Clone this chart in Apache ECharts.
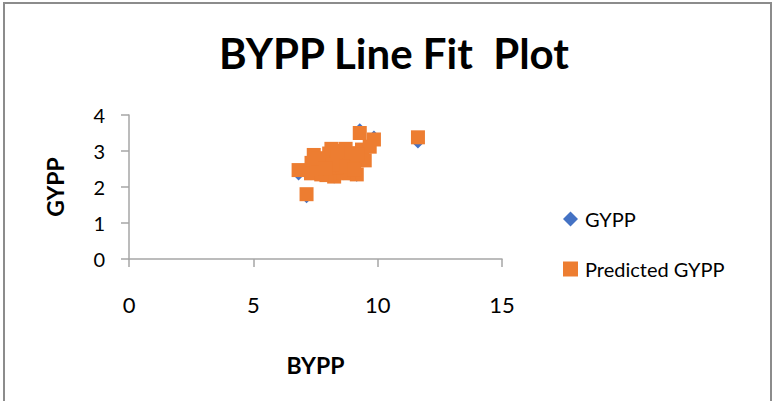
<!DOCTYPE html>
<html>
<head>
<meta charset="utf-8">
<script src="https://cdn.jsdelivr.net/npm/echarts@6/dist/echarts.min.js"></script>
<style>
  html, body { margin: 0; padding: 0; background: #fff; }
  #chart { width: 774px; height: 401px; }
</style>
</head>
<body>
<div id="chart"></div>
<script>
// BYPP values (x) and the two GYPP series
const bypp = [9.28, 9.85, 11.62, 7.14, 6.82, 7.43, 7.34, 7.32, 8.14, 8.71, 8.05, 9.37, 9.68,
              9.48, 8.25, 9.16, 7.94, 8.81, 8.46, 9.00, 7.80, 8.86, 8.64, 7.73, 7.55, 8.35,
              8.60, 8.20, 9.20, 7.60, 8.40, 9.05, 7.90]
const gypp = [3.62, 3.42, 3.22, 1.70, 2.33, 2.90, 2.62, 2.34, 3.00, 3.02, 2.88, 3.00, 3.08,
              2.70, 2.25, 2.30, 2.33, 2.34, 2.70, 2.62, 2.62, 2.90, 2.34, 2.34, 2.50, 2.52,
              2.55, 2.58, 2.85, 2.75, 2.95, 2.45, 2.48]
const predicted = [3.50, 3.32, 3.38, 1.80, 2.47, 2.89, 2.67, 2.38, 3.06, 3.06, 2.93, 3.04, 3.12,
                   2.74, 2.29, 2.35, 2.33, 2.38, 2.76, 2.67, 2.67, 2.94, 2.40, 2.35, 2.50, 2.55,
                   2.58, 2.62, 2.90, 2.80, 3.00, 2.48, 2.52]
const seriesNames = ["GYPP", "Predicted GYPP"]

const font = "Lato, 'Open Sans', sans-serif"
const axisColor = "#a6a6a6"

let chart = echarts.init(document.getElementById("chart"), null, {renderer: "svg"})
chart.setOption({
    animation: false,
    textStyle: { fontFamily: font },
    title: {
        text: "BYPP Line Fit  Plot",
        left: 389,
        textAlign: "center",
        top: 27,
        textStyle: { fontSize: 42, fontWeight: "bold", color: "#000", fontFamily: font },
    },
    graphic: [{
        type: "rect",
        shape: { x: 4, y: 3, width: 767, height: 420 },
        style: { fill: "none", stroke: "#8c8c8c", lineWidth: 2 },
        silent: true,
    }],
    grid: { left: 129, right: 272, top: 115, bottom: 142 },
    legend: {
        orient: "vertical",
        left: 558,
        top: 204,
        itemWidth: 15,
        itemHeight: 15,
        itemGap: 30,
        textStyle: { fontSize: 20, color: "#000", fontFamily: font, padding: [0, 0, 0, 2] },
        data: [
            { name: seriesNames[0], icon: "diamond" },
            { name: seriesNames[1], icon: "rect" },
        ],
    },
    xAxis: {
        type: "value",
        min: 0,
        max: 15,
        interval: 5,
        name: "BYPP",
        nameLocation: "middle",
        nameGap: 94,
        nameTextStyle: { fontSize: 23, fontWeight: "bold", color: "#000", fontFamily: font },
        axisLine: { show: true, lineStyle: { color: axisColor, width: 1.5 } },
        axisTick: { show: true, length: 8, lineStyle: { color: axisColor, width: 1.5 } },
        axisLabel: { fontSize: 22, color: "#000", margin: 34, fontFamily: font },
        splitLine: { show: false },
    },
    yAxis: {
        type: "value",
        min: 0,
        max: 4,
        interval: 1,
        name: "GYPP",
        nameLocation: "middle",
        nameGap: 63,
        nameTextStyle: { fontSize: 23, fontWeight: "bold", color: "#000", fontFamily: font },
        axisLine: { show: true, lineStyle: { color: axisColor, width: 1.5 } },
        axisTick: { show: true, length: 8, lineStyle: { color: axisColor, width: 1.5 } },
        axisLabel: { fontSize: 20, color: "#000", margin: 24, fontFamily: font },
        splitLine: { show: false },
    },
    series: [
        {
            name: seriesNames[0],
            type: "scatter",
            symbol: "diamond",
            symbolSize: 11,
            itemStyle: { color: "#4472C4", opacity: 1 },
            data: bypp.map((x, i) => [x, gypp[i]]),
        },
        {
            name: seriesNames[1],
            type: "scatter",
            symbol: "rect",
            symbolSize: 14,
            itemStyle: { color: "#ED7D31", opacity: 1 },
            data: bypp.map((x, i) => [x, predicted[i]]),
        },
    ],
})
</script>
</body>
</html>
